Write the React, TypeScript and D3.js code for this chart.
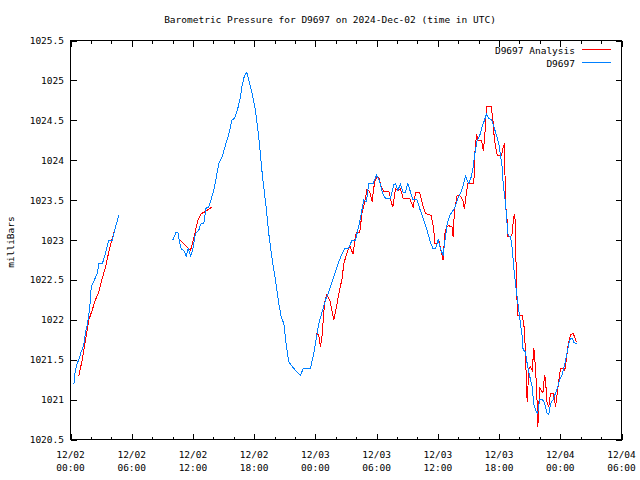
import React from "react";
import * as d3 from "d3";

// ---- data (hours since 2024-12-02 00:00 UTC, pressure in mb); null = gap ----
const START_MS = Date.UTC(2024, 11, 2, 0, 0, 0);
const END_HOURS = 54;

const stationReadings: ([number, number] | null)[] = [
  [0.33, 1021.19], [0.46, 1021.35], [0.59, 1021.43], [0.81, 1021.5], [1.05, 1021.6],
  [1.3, 1021.68], [1.47, 1021.85], [1.64, 1021.93], [1.89, 1022.16], [2.03, 1022.41],
  [2.28, 1022.48], [2.62, 1022.58], [2.77, 1022.7], [3.11, 1022.7], [3.43, 1022.83],
  [3.75, 1023.0], [4.09, 1023.0], [4.41, 1023.16], [4.73, 1023.31],
  null,
  [10.03, 1023.0], [10.36, 1023.1], [10.52, 1023.1], [10.71, 1022.96], [10.85, 1022.89],
  [11.1, 1022.87], [11.34, 1022.8], [11.53, 1022.89], [11.79, 1022.8], [11.99, 1022.89],
  [12.25, 1023.08], [12.57, 1023.12], [12.74, 1023.2], [13.06, 1023.21], [13.3, 1023.41],
  [13.55, 1023.41], [14.04, 1023.62], [14.21, 1023.73], [14.54, 1023.96], [14.86, 1024.04],
  [15.19, 1024.19], [15.52, 1024.33], [15.84, 1024.51], [16.07, 1024.52], [16.4, 1024.65],
  [16.66, 1024.79], [16.82, 1024.94], [17.05, 1025.06], [17.28, 1025.1], [17.47, 1025.0],
  [17.81, 1024.83], [18.13, 1024.62], [18.45, 1024.29], [18.79, 1023.83], [19.21, 1023.37],
  [19.43, 1023.08], [19.77, 1022.75], [20.09, 1022.5], [20.41, 1022.2], [20.65, 1022.04],
  [20.91, 1021.95], [21.17, 1021.66], [21.4, 1021.47], [21.89, 1021.39], [22.54, 1021.3],
  [22.8, 1021.39], [23.52, 1021.39], [23.84, 1021.58], [24.17, 1021.83], [24.33, 1021.95],
  [24.66, 1022.1], [24.99, 1022.25], [25.31, 1022.35], [25.64, 1022.48], [25.97, 1022.6],
  [26.3, 1022.73], [26.62, 1022.83], [26.85, 1022.89], [27.27, 1022.9], [27.6, 1023.0],
  [27.93, 1023.0], [28.26, 1023.18], [28.58, 1023.39], [28.74, 1023.5], [29.0, 1023.48],
  [29.23, 1023.71], [29.66, 1023.71], [29.99, 1023.81], [30.31, 1023.73], [30.55, 1023.6],
  [30.87, 1023.52], [31.36, 1023.52], [31.68, 1023.69], [31.85, 1023.71], [32.07, 1023.62],
  [32.34, 1023.7], [32.6, 1023.6], [32.83, 1023.6], [33.06, 1023.71], [33.32, 1023.6],
  [33.55, 1023.51], [33.98, 1023.5], [34.23, 1023.39], [34.62, 1023.25], [34.95, 1023.12],
  [35.21, 1023.0], [35.51, 1022.89], [35.77, 1022.89], [36.03, 1023.0], [36.26, 1022.89],
  [36.52, 1022.81], [36.75, 1023.04], [36.91, 1023.2], [37.17, 1023.31], [37.5, 1023.37],
  [37.73, 1023.43], [37.95, 1023.52], [38.22, 1023.59], [38.45, 1023.66], [38.6, 1023.75],
  [38.71, 1023.8], [38.87, 1023.75], [39.04, 1023.71], [39.27, 1023.79], [39.46, 1023.91],
  [39.62, 1024.08], [39.86, 1024.25], [40.11, 1024.31], [40.35, 1024.42], [40.57, 1024.5],
  [40.77, 1024.58], [40.99, 1024.52], [41.26, 1024.51], [41.49, 1024.42], [41.75, 1024.31],
  [41.98, 1024.21], [42.14, 1024.06], [42.31, 1023.91], [42.4, 1023.71], [42.63, 1023.46],
  [42.79, 1023.2], [42.89, 1023.06], [43.12, 1023.04], [43.28, 1022.91], [43.44, 1022.66],
  [43.61, 1022.45], [43.77, 1022.29], [43.93, 1022.12], [44.1, 1021.95], [44.27, 1021.79],
  [44.36, 1021.62], [44.59, 1021.6], [44.69, 1021.5], [44.82, 1021.41], [45.01, 1021.29],
  [45.25, 1021.16], [45.4, 1020.95], [45.57, 1020.87], [45.74, 1020.83], [45.86, 1020.87],
  [45.96, 1021.0], [46.22, 1021.0], [46.38, 1020.98], [46.55, 1020.91], [46.71, 1020.83],
  [46.87, 1020.81], [47.04, 1020.95], [47.3, 1021.0], [47.53, 1021.08], [47.75, 1021.16],
  [47.95, 1021.25], [48.18, 1021.31], [48.41, 1021.43], [48.6, 1021.54], [48.83, 1021.7],
  [49.0, 1021.77], [49.16, 1021.77], [49.33, 1021.72], [49.59, 1021.7],
];

const analysisReadings: ([number, number] | null)[] = [
  [0.81, 1021.29], [1.15, 1021.5], [1.47, 1021.75], [1.8, 1022.0], [2.12, 1022.12],
  [2.45, 1022.25], [2.77, 1022.35], [3.11, 1022.52], [3.43, 1022.66], [3.75, 1022.85],
  [4.09, 1023.02], [4.41, 1023.16],
  null,
  [10.71, 1023.0], [11.76, 1022.87], [12.08, 1023.02], [12.48, 1023.25], [12.81, 1023.33],
  [13.13, 1023.35], [13.82, 1023.41],
  null,
  [24.07, 1021.83], [24.33, 1021.81], [24.5, 1021.66], [24.66, 1021.81], [24.89, 1022.2],
  [25.09, 1022.31], [25.41, 1022.25], [25.64, 1022.1], [25.8, 1022.0], [26.07, 1022.16],
  [26.3, 1022.33], [26.62, 1022.52], [26.78, 1022.7], [27.12, 1022.85], [27.37, 1022.93],
  [27.7, 1022.82], [27.86, 1023.0], [28.03, 1023.1], [28.35, 1023.1], [28.58, 1023.35],
  [28.81, 1023.46], [29.07, 1023.64], [29.33, 1023.6], [29.56, 1023.48], [29.73, 1023.66],
  [29.89, 1023.77], [30.21, 1023.79], [30.45, 1023.66], [30.7, 1023.61], [31.2, 1023.61],
  [31.43, 1023.48], [31.59, 1023.41], [31.85, 1023.64], [32.17, 1023.62], [32.34, 1023.64],
  [32.6, 1023.52], [33.25, 1023.52], [33.58, 1023.41], [33.81, 1023.59], [34.23, 1023.59],
  [34.47, 1023.46], [34.79, 1023.33], [35.35, 1023.31], [35.6, 1023.14], [35.7, 1022.96],
  [35.93, 1022.96], [36.1, 1023.0], [36.26, 1022.89], [36.52, 1022.75], [36.68, 1023.08],
  [36.85, 1023.16], [37.07, 1023.18], [37.4, 1023.16], [37.5, 1023.04], [37.63, 1023.37],
  [37.9, 1023.56], [38.15, 1023.56], [38.45, 1023.5], [38.6, 1023.39], [38.77, 1023.56],
  [38.93, 1023.71], [39.53, 1023.71], [39.62, 1024.08], [39.79, 1024.33], [39.95, 1024.25],
  [40.28, 1024.25], [40.45, 1024.12], [40.6, 1024.29], [40.67, 1024.46], [40.77, 1024.67],
  [41.24, 1024.67], [41.4, 1024.5], [41.55, 1024.25], [41.82, 1024.06], [42.24, 1024.06],
  [42.4, 1024.16], [42.53, 1024.21], [42.63, 1023.46], [42.79, 1023.25], [42.85, 1023.04],
  [43.12, 1023.04], [43.28, 1023.08], [43.44, 1023.29], [43.54, 1023.33], [43.61, 1023.12],
  [43.71, 1022.37], [43.84, 1022.05], [44.27, 1022.05], [44.43, 1021.95], [44.59, 1021.62],
  [44.69, 1021.14], [44.76, 1020.97], [44.92, 1021.39], [45.08, 1021.41], [45.25, 1021.37],
  [45.35, 1021.54], [45.41, 1021.64], [45.51, 1021.5], [45.68, 1021.16], [45.8, 1020.66],
  [45.9, 1020.95], [46.0, 1021.14], [46.14, 1021.12], [46.3, 1021.08], [46.46, 1021.31],
  [46.55, 1021.25], [46.71, 1020.95], [46.87, 1020.91], [47.04, 1021.08], [47.3, 1021.08],
  [47.43, 1021.01], [47.53, 1020.91], [47.7, 1021.08], [47.86, 1021.25], [48.02, 1021.39],
  [48.28, 1021.39], [48.44, 1021.37], [48.6, 1021.5], [48.76, 1021.68], [48.99, 1021.81],
  [49.26, 1021.83], [49.39, 1021.79], [49.59, 1021.72],
];

const seriesNames = ["D9697 Analysis", "D9697"];
const seriesColors = ["#ff0000", "#0080ff"];
const titleText = "Barometric Pressure for D9697 on 2024-Dec-02 (time in UTC)";
const yAxisLabel = "milliBars";
const yDomain = [1020.5, 1025.5];

const FONT = "'DejaVu Sans Mono', 'Liberation Mono', monospace";

export default function App() {
  const W = 640, H = 480;
  const left = 70.5, right = 621.5, top = 40.5, bottom = 439.5;

  const start = new Date(START_MS);
  const end = new Date(START_MS + END_HOURS * 3600e3);
  const x = d3.scaleUtc().domain([start, end]).range([left, right]);
  const y = d3.scaleLinear().domain(yDomain).range([bottom, top]);

  const toDate = (h: number) => new Date(START_MS + h * 3600e3);

  const line = d3
    .line<[number, number] | null>()
    .defined((d) => d !== null)
    .x((d) => x(toDate((d as [number, number])[0])))
    .y((d) => y((d as [number, number])[1]));

  const majorTicks = x.ticks(d3.utcHour.every(6)!);
  const minorTicks = x.ticks(d3.utcHour.every(2)!);
  const yTicks = y.ticks(10);
  const fmtDate = d3.utcFormat("%m/%d");
  const fmtTime = d3.utcFormat("%H:%M");
  const fmtY = d3.format("~g");

  const fs = 9.5;

  return (
    <svg width={W} height={H} style={{ position: "absolute", left: 0, top: 0, background: "#fff" }}>
      <rect x={0} y={0} width={W} height={H} fill="#fff" />
      <text x={330} y={23} fontFamily={FONT} fontSize={fs} textAnchor="middle" fill="#000">
        {titleText}
      </text>
      <text
        transform={`translate(14,242) rotate(-90)`}
        fontFamily={FONT}
        fontSize={fs}
        textAnchor="middle"
        fill="#000"
      >
        {yAxisLabel}
      </text>

      <g shapeRendering="crispEdges" stroke="#000" strokeWidth={1}>
        {minorTicks.map((t, i) => {
          const xx = Math.round(x(t)) + 0.5;
          const isMajor = t.getUTCHours() % 6 === 0;
          const len = isMajor ? 6 : 3;
          return (
            <g key={"xt" + i}>
              <line x1={xx} x2={xx} y1={bottom} y2={bottom - len} />
              <line x1={xx} x2={xx} y1={top} y2={top + len} />
            </g>
          );
        })}
        {yTicks.map((v, i) => {
          const yy = Math.round(y(v)) + 0.5;
          return (
            <g key={"yt" + i}>
              <line x1={left} x2={left + 6} y1={yy} y2={yy} />
              <line x1={right} x2={right - 6} y1={yy} y2={yy} />
            </g>
          );
        })}
      </g>

      {yTicks.map((v, i) => (
        <text
          key={"yl" + i}
          x={64}
          y={y(v) + 3.5}
          fontFamily={FONT}
          fontSize={fs}
          textAnchor="end"
          fill="#000"
        >
          {fmtY(v)}
        </text>
      ))}
      {majorTicks.map((t, i) => (
        <g key={"xl" + i}>
          <text x={x(t)} y={458} fontFamily={FONT} fontSize={fs} textAnchor="middle" fill="#000">
            {fmtDate(t)}
          </text>
          <text x={x(t)} y={471} fontFamily={FONT} fontSize={fs} textAnchor="middle" fill="#000">
            {fmtTime(t)}
          </text>
        </g>
      ))}

      <path
        d={line(analysisReadings) || ""}
        fill="none"
        stroke={seriesColors[0]}
        strokeWidth={1}
        shapeRendering="crispEdges"
      />
      <path
        d={line(stationReadings) || ""}
        fill="none"
        stroke={seriesColors[1]}
        strokeWidth={1}
        shapeRendering="crispEdges"
      />

      {seriesNames.map((name, i) => {
        const ly = 49.5 + i * 13;
        return (
          <g key={"lg" + i}>
            <text x={575} y={ly + 4} fontFamily={FONT} fontSize={fs} textAnchor="end" fill="#000">
              {name}
            </text>
            <line
              x1={582}
              x2={611}
              y1={ly}
              y2={ly}
              stroke={seriesColors[i]}
              strokeWidth={1}
              shapeRendering="crispEdges"
            />
          </g>
        );
      })}

      <rect
        x={left}
        y={top}
        width={right - left}
        height={bottom - top}
        fill="none"
        stroke="#000"
        strokeWidth={1}
        shapeRendering="crispEdges"
      />
    </svg>
  );
}
